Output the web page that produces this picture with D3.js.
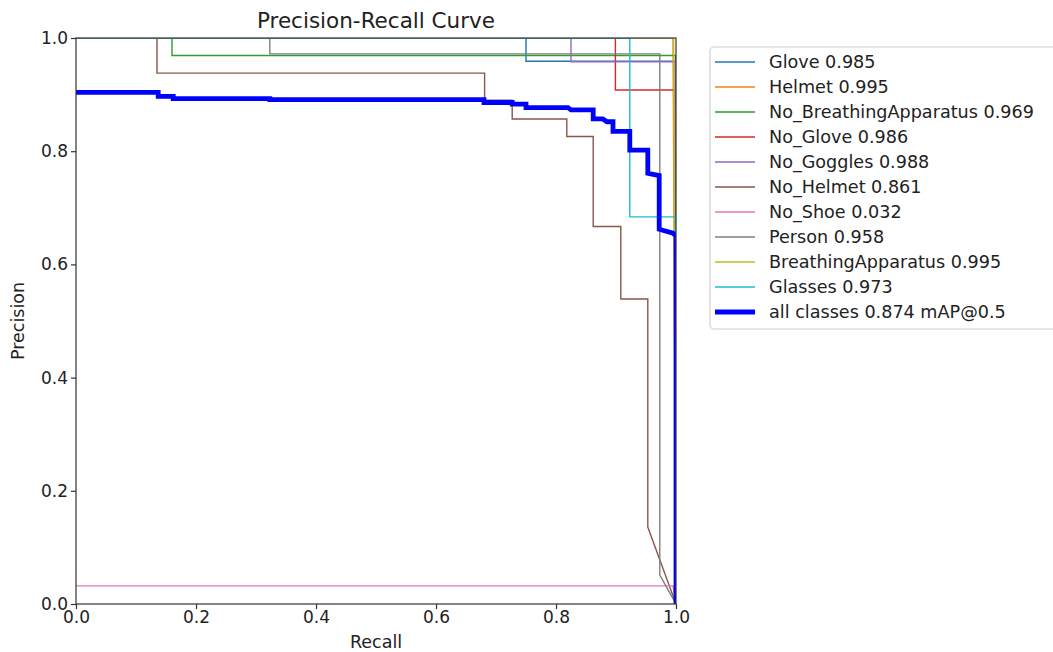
<!DOCTYPE html>
<html>
<head>
<meta charset="utf-8">
<script src="https://cdn.jsdelivr.net/npm/d3@7"></script>
<style>
  body { margin: 0; background: #fff; }
  svg { font-family: "DejaVu Sans", sans-serif; }
</style>
</head>
<body>
<div id="chart"></div>
<script>
// class names + AP as shown in the legend
const classNames = ["Glove", "Helmet", "No_BreathingApparatus", "No_Glove", "No_Goggles",
                    "No_Helmet", "No_Shoe", "Person", "BreathingApparatus", "Glasses"];
const apValues = [0.985, 0.995, 0.969, 0.986, 0.988, 0.861, 0.032, 0.958, 0.995, 0.973];
const classColors = ["#1f77b4", "#ff7f0e", "#2ca02c", "#d62728", "#9467bd",
                     "#8c564b", "#e377c2", "#7f7f7f", "#bcbd22", "#17becf"];
const mapAll = 0.874;

// [recall, precision] vertices
const glove = [[0, 1], [0.75, 1], [0.75, 0.959], [0.999, 0.959], [1, 0]];
const helmet = [[0, 1], [0.995, 1], [1, 0]];
const noBreathing = [[0, 1], [0.16, 1], [0.16, 0.969], [0.999, 0.969], [1, 0]];
const noGlove = [[0, 1], [0.899, 1], [0.899, 0.908], [0.999, 0.908], [1, 0]];
const noGoggles = [[0, 1], [0.825, 1], [0.825, 0.958], [0.999, 0.958], [1, 0]];
const noHelmet = [[0, 1], [0.135, 1], [0.135, 0.938], [0.681, 0.938], [0.681, 0.89],
                  [0.727, 0.89], [0.727, 0.857], [0.818, 0.857], [0.818, 0.826],
                  [0.862, 0.826], [0.862, 0.667], [0.908, 0.667], [0.908, 0.539],
                  [0.953, 0.539], [0.953, 0.136], [1, 0]];
const noShoe = [[0, 0.032], [0.995, 0.032], [1, 0]];
const person = [[0, 1], [0.323, 1], [0.323, 0.972], [0.973, 0.972], [0.973, 0.051], [1, 0]];
const breathing = [[0, 1], [0.996, 1], [1, 0]];
const glasses = [[0, 1], [0.923, 1], [0.923, 0.684], [0.999, 0.684], [1, 0]];
const allClasses = [[0, 0.904], [0.137, 0.904], [0.137, 0.897], [0.162, 0.897], [0.162, 0.893],
                    [0.323, 0.893], [0.323, 0.891], [0.68, 0.891], [0.68, 0.886], [0.727, 0.886],
                    [0.727, 0.883], [0.75, 0.883], [0.75, 0.877], [0.82, 0.877], [0.825, 0.873],
                    [0.862, 0.873], [0.862, 0.857], [0.878, 0.857], [0.885, 0.852], [0.895, 0.852],
                    [0.895, 0.835], [0.923, 0.835], [0.923, 0.802], [0.953, 0.802], [0.953, 0.761],
                    [0.972, 0.757], [0.972, 0.662], [0.995, 0.655], [1, 0.65], [1, 0]];
const curves = [glove, helmet, noBreathing, noGlove, noGoggles, noHelmet, noShoe, person, breathing, glasses];

const xTicks = [0, 0.2, 0.4, 0.6, 0.8, 1.0];
const yTicks = [0, 0.2, 0.4, 0.6, 0.8, 1.0];

const W = 1053, H = 652;
const margin = { top: 38, left: 76 },
    width = 600,
    height = 566;

const svg = d3.select("#chart").append("svg")
    .attr("width", W)
    .attr("height", H);

const x = d3.scaleLinear().domain([0, 1]).range([margin.left, margin.left + width]);
const y = d3.scaleLinear().domain([0, 1]).range([margin.top + height, margin.top]);

svg.append("clipPath").attr("id", "plotclip")
  .append("rect")
    .attr("x", margin.left).attr("y", margin.top)
    .attr("width", width).attr("height", height);

const line = d3.line().x(d => x(d[0])).y(d => y(d[1]));

const plot = svg.append("g").attr("clip-path", "url(#plotclip)");

curves.forEach((c, i) => {
  plot.append("path")
    .attr("d", line(c))
    .attr("fill", "none")
    .attr("stroke", classColors[i])
    .attr("stroke-width", 1.4);
});

plot.append("path")
  .attr("d", line(allClasses))
  .attr("fill", "none")
  .attr("stroke", "#0000ff")
  .attr("stroke-width", 4.8)
  .attr("stroke-linejoin", "miter");

// axes
const xAxis = d3.axisBottom(x).tickValues(xTicks).tickFormat(d3.format(".1f")).tickSize(5).tickPadding(2);
const yAxis = d3.axisLeft(y).tickValues(yTicks).tickFormat(d3.format(".1f")).tickSize(5).tickPadding(3);

const gx = svg.append("g")
    .attr("transform", "translate(0," + (margin.top + height) + ")")
    .call(xAxis);
const gy = svg.append("g")
    .attr("transform", "translate(" + margin.left + ",0)")
    .call(yAxis);

[gx, gy].forEach(g => {
  g.select(".domain").remove();
  g.selectAll("line").attr("stroke", "#333").attr("stroke-width", 1.2);
  g.selectAll("text").attr("fill", "#222").style("font-size", "17px")
    .style("font-family", "DejaVu Sans, sans-serif");
});

// spines on top of the curves
svg.append("rect")
    .attr("x", margin.left).attr("y", margin.top)
    .attr("width", width).attr("height", height)
    .attr("fill", "none")
    .attr("stroke", "#333")
    .attr("stroke-width", 1.2);

svg.append("text")
    .attr("x", margin.left + width / 2)
    .attr("y", 28)
    .attr("text-anchor", "middle")
    .style("font-size", "21.5px")
    .attr("fill", "#222")
    .text("Precision-Recall Curve");

svg.append("text")
    .attr("x", margin.left + width / 2)
    .attr("y", 648)
    .attr("text-anchor", "middle")
    .style("font-size", "17.5px")
    .attr("fill", "#222")
    .text("Recall");

svg.append("text")
    .attr("transform", "translate(24," + (margin.top + height / 2) + ") rotate(-90)")
    .attr("text-anchor", "middle")
    .style("font-size", "17.5px")
    .attr("fill", "#222")
    .text("Precision");

// legend
const legendItems = classNames.map((n, i) => ({ label: n + " " + apValues[i].toFixed(3), color: classColors[i], w: 1.4 }))
    .concat([{ label: "all classes " + mapAll.toFixed(3) + " mAP@0.5", color: "#0000ff", w: 4.8 }]);

const legend = svg.append("g").attr("class", "legend");

legend.append("rect")
    .attr("x", 710).attr("y", 47)
    .attr("width", 380).attr("height", 282)
    .attr("rx", 4).attr("ry", 4)
    .attr("fill", "#fff")
    .attr("stroke", "#d0d0d0")
    .attr("stroke-width", 1.2);

const li = legend.selectAll(".item")
    .data(legendItems)
    .enter().append("g")
    .attr("class", "item")
    .attr("transform", (d, i) => "translate(0," + (62 + i * 25) + ")");

li.append("line")
    .attr("x1", 715).attr("x2", 755)
    .attr("stroke", d => d.color)
    .attr("stroke-width", d => d.w);

li.append("text")
    .attr("x", 769)
    .attr("dy", "0.35em")
    .style("font-size", "17.6px")
    .attr("fill", "#222")
    .text(d => d.label);
</script>
</body>
</html>
